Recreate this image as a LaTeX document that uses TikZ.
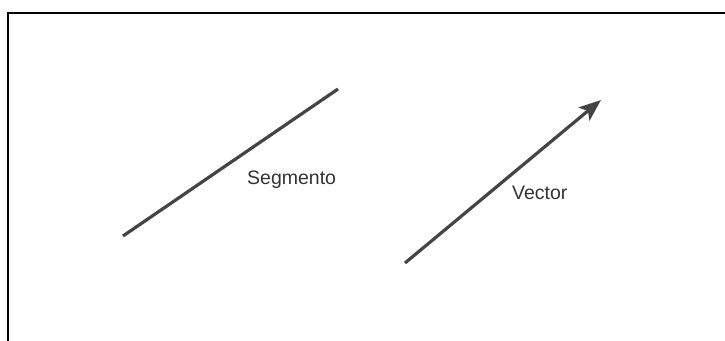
\documentclass[tikz,border=0pt]{standalone}
\usepackage{fontspec}
\setmainfont{Liberation Sans}
\usetikzlibrary{arrows.meta}
\definecolor{linegray}{HTML}{444444}
\definecolor{textgray}{HTML}{333333}

\begin{document}
\begin{tikzpicture}[x=1pt,y=-1pt,
    seg/.style={line width=3.2pt,color=linegray},
    lbl/.style={anchor=base west,inner sep=0pt,text=textgray,font=\fontsize{19.5}{21}\selectfont}]
  \useasboundingbox (0,0) rectangle (725,340);
  \draw [line width=2.4pt]    (8,341) -- (8,13) -- (726,13);
  % segmento
  \coordinate (sa) at (123,236);
  \coordinate (sb) at (338,89);
  \draw [seg]    (sa) -- (sb);
  \node [lbl] (segtxt) at (247,184) {Segmento};
  % vector
  \coordinate (va) at (405,263);
  \coordinate (vb) at (601,100);
  \draw [seg,-{Stealth[length=22pt,width=17pt,inset=5pt]}]    (va) -- (vb);
  \node [lbl] (vectxt) at (512,199) {Vector};
\end{tikzpicture}
\end{document}
